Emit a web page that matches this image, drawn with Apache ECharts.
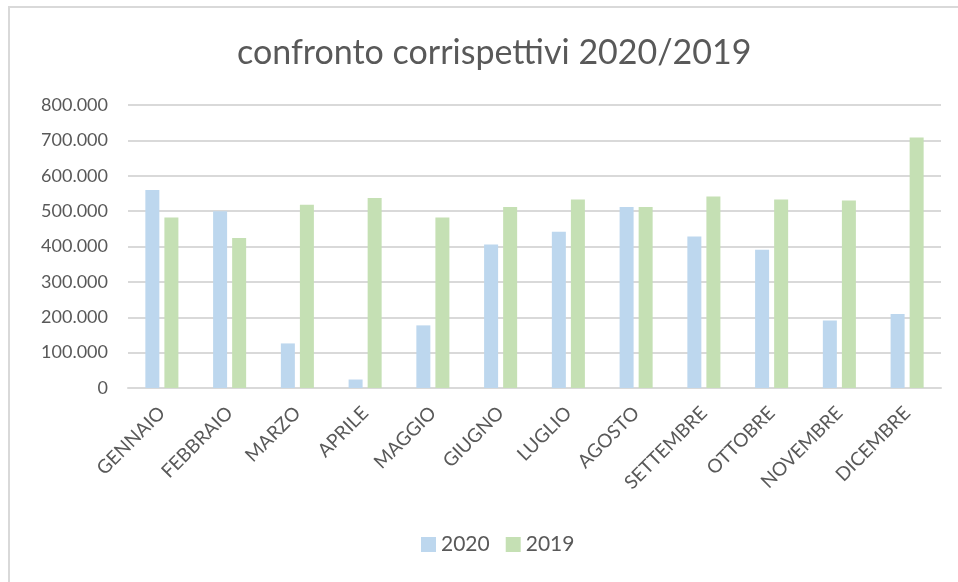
<!DOCTYPE html>
<html>
<head>
<meta charset="utf-8">
<script src="https://cdn.jsdelivr.net/npm/echarts@6/dist/echarts.min.js"></script>
<style>
  html, body { margin: 0; padding: 0; background: #fff; }
  #chart { width: 958px; height: 582px; }
</style>
</head>
<body>
<div id="chart"></div>
<script>
// mesi
const months = ['GENNAIO', 'FEBBRAIO', 'MARZO', 'APRILE', 'MAGGIO', 'GIUGNO',
  'LUGLIO', 'AGOSTO', 'SETTEMBRE', 'OTTOBRE', 'NOVEMBRE', 'DICEMBRE']
// corrispettivi 2020
const values2020 = [560000, 500000, 126000, 24000, 177000, 406000,
  442000, 512000, 428000, 391000, 191000, 209000]
// corrispettivi 2019
const values2019 = [482000, 424000, 518000, 537000, 482000, 512000,
  533000, 512000, 541000, 533000, 530000, 708000]

const textColor = '#595959'
const lineColor = '#d9d9d9'
const font = 'Lato'

// 800000 -> "800.000"
function fmt(v) {
  return String(v).replace(/\B(?=(\d{3})+(?!\d))/g, '.')
}

const chart = echarts.init(document.getElementById('chart'), null, { renderer: 'canvas' })
chart.setOption({
  backgroundColor: '#fff',
  animation: false,
  title: {
    text: 'confronto corrispettivi 2020/2019',
    left: 232,
    top: 31,
    textStyle: { color: textColor, fontFamily: font, fontWeight: 'normal', fontSize: 34 }
  },
  legend: {
    data: ['2020', '2019'],
    bottom: 22,
    left: 416,
    itemWidth: 15,
    itemHeight: 15,
    itemGap: 16,
    icon: 'rect',
    textStyle: { color: textColor, fontFamily: font, fontSize: 21 }
  },
  grid: { left: 128, right: 17, top: 105, bottom: 194, containLabel: false },
  xAxis: {
    type: 'category',
    data: months,
    axisLine: { lineStyle: { color: lineColor, width: 2 } },
    axisTick: { show: false },
    axisLabel: {
      color: textColor, fontFamily: font, fontSize: 19,
      rotate: 45, margin: 22, interval: 0
    }
  },
  yAxis: {
    type: 'value',
    min: 0,
    max: 800000,
    interval: 100000,
    axisLine: { show: false },
    axisTick: { show: false },
    splitLine: { lineStyle: { color: lineColor, width: 2 } },
    axisLabel: {
      color: textColor, fontFamily: font, fontSize: 18, margin: 20,
      formatter: fmt
    }
  },
  series: [
    {
      name: '2020',
      type: 'bar',
      data: values2020,
      barWidth: 14,
      barGap: '36%',
      itemStyle: { color: '#bdd7ee' }
    },
    {
      name: '2019',
      type: 'bar',
      data: values2019,
      barWidth: 14,
      itemStyle: { color: '#c5e0b4' }
    }
  ],
  graphic: [
    { type: 'rect', left: 8, top: 6, shape: { width: 950, height: 2 }, style: { fill: lineColor } },
    { type: 'rect', left: 8, top: 6, shape: { width: 2, height: 576 }, style: { fill: lineColor } }
  ]
})
</script>
</body>
</html>
